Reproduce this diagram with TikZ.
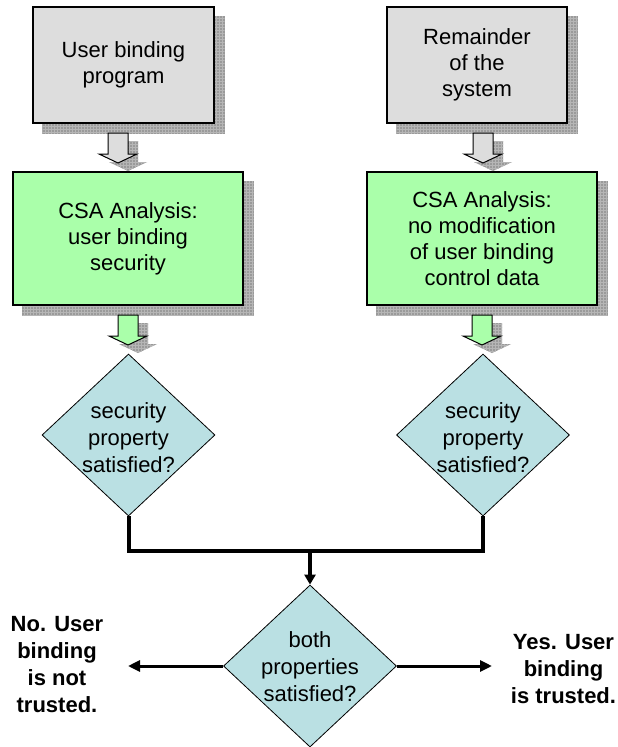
\documentclass[tikz,border=0pt]{standalone}
\usepackage{fontspec}
\setmainfont{Liberation Sans}
\usetikzlibrary{shapes.geometric,arrows.meta,patterns,backgrounds}

\definecolor{boxgray}{HTML}{DDDDDD}
\definecolor{boxgreen}{HTML}{AAFFAA}
\definecolor{decblue}{HTML}{BAE0E3}
\definecolor{shadowgray}{HTML}{9A9A9A}
\definecolor{shadowgrid}{HTML}{B6B6B6}

\tikzset{
  txt/.style={font=\fontsize{22}{26}\selectfont, align=center, inner sep=0pt},
  srcbox/.style={txt, draw, line width=1.2pt, fill=boxgray,
    minimum width=181pt, minimum height=116pt},
  csabox/.style={txt, draw, line width=1.2pt, fill=boxgreen,
    minimum width=230pt, minimum height=133pt},
  decision/.style={diamond, draw, line width=0.8pt, fill=decblue, inner sep=0pt,
    minimum width=173pt, minimum height=162pt},
  dectext/.style={txt, font=\fontsize{22}{27}\selectfont},
  verdict/.style={txt, font=\fontsize{22}{27}\selectfont\bfseries},
  shadowpat/.style={preaction={fill=shadowgray}, pattern=grid, pattern color=shadowgrid},
  flow/.style={line width=4pt, line join=miter},
  outcome/.style={line width=3pt, -{Triangle[length=12pt,width=11pt]}},
  pics/blockarrow/.style={code={
    \fill[shadowpat, shift={(10,8)}]
      (-10,0) -- (10,0) -- (10,21) -- (19,21) -- (0,30) -- (-19,21) -- (-10,21) -- cycle;
    \draw[line width=1pt, line join=miter, pic actions]
      (-10,0) -- (10,0) -- (10,21) -- (19,21) -- (0,30) -- (-19,21) -- (-10,21) -- cycle;
  }}
}

\begin{document}
\begin{tikzpicture}[x=1pt, y=-1pt]
\useasboundingbox (0,0) rectangle (618,747);

% source boxes
\node[srcbox] (g1) at (123.5,65) {User binding\\program};
\node[srcbox, minimum width=180pt] (g2) at (477,65) {Remainder\\of the\\system};

% analysis boxes
\node[csabox] (c1) at (128,238.5) {CSA Analysis:\\user binding\\security};
\node[csabox] (c2) at (482,238.5) {CSA Analysis:\\no modification\\of user binding\\control data};

% box shadows, offset down and to the right
\begin{scope}[on background layer]
  \foreach \b in {g1,g2,c1,c2}
    \fill[shadowpat] ([shift={(10,10)}]\b.south west) rectangle ([shift={(10,10)}]\b.north east);
\end{scope}

% block arrows between boxes and decisions
\coordinate (ga1) at (118,133);
\coordinate (ga2) at (483,133);
\coordinate (ca1) at (128,315);
\coordinate (ca2) at (482,315);
\pic[fill=boxgray] at (ga1) {blockarrow};
\pic[fill=boxgray] at (ga2) {blockarrow};
\pic[fill=boxgreen] at (ca1) {blockarrow};
\pic[fill=boxgreen] at (ca2) {blockarrow};

% decisions
\node[decision] (d1) at (128.5,435) {};
\node[dectext] (d1t) at (128.5,438) {security\\property\\satisfied?};
\node[decision] (d2) at (483,435) {};
\node[dectext] (d2t) at (483,438) {security\\property\\satisfied?};
\node[decision] (d3) at (310,666) {};
\node[dectext] (d3t) at (310,667) {both\\properties\\satisfied?};

% joining the two checks
\coordinate (j) at (310,551);
\draw[flow] (d1.south) -- (d1.south |- j) -- (d2.south |- j) -- (d2.south);
\draw[flow, -{Triangle[length=10pt,width=11pt]}] (j) -- (d3.north);

% outcomes
\node[verdict] (no) at (57,664.5) {No. User\\binding\\is not\\trusted.};
\node[verdict] (yes) at (563.5,669) {Yes. User\\binding\\is trusted.};
\coordinate (noend) at (128,666);
\coordinate (yesend) at (492,666);
\draw[outcome] (d3.west) -- (noend);
\draw[outcome] (d3.east) -- (yesend);
\end{tikzpicture}
\end{document}
